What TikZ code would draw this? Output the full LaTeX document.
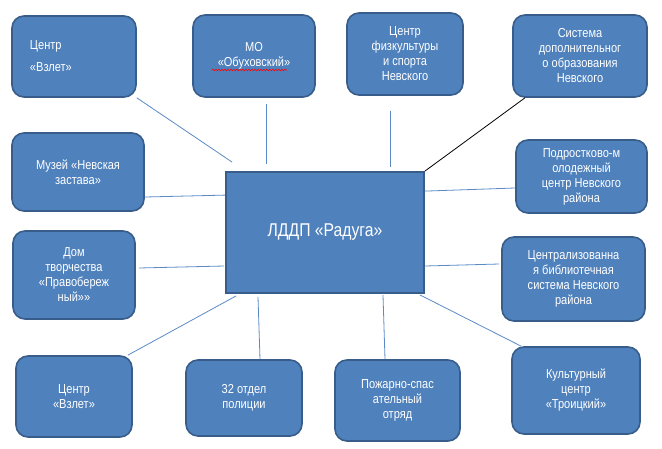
\documentclass[tikz,border=0pt]{standalone}
\usepackage{fontspec}
\setmainfont{Liberation Sans}[FakeStretch=0.85]
\usetikzlibrary{decorations.pathmorphing}
\definecolor{boxfill}{HTML}{4F81BD}
\definecolor{boxline}{HTML}{385D8A}
\definecolor{linkline}{HTML}{5B8AC6}

\begin{document}
\begin{tikzpicture}[
  x=1pt,y=-1pt,
  font=\fontsize{13}{15}\selectfont,
  partner/.style={draw=boxline,line width=1.6pt,fill=boxfill,rounded corners=12pt,text=white,align=center,inner sep=2pt},
  hubbox/.style={draw=boxline,line width=1.8pt,fill=boxfill,text=white,align=center,font=\fontsize{18.5}{21}\selectfont},
  link/.style={draw=linkline,line width=0.8pt}
]
  \useasboundingbox (0,0) rectangle (662,448);

  \node[hubbox,minimum width=198pt,minimum height=121pt] (hub) at (325,232.5) {ЛДДП «Радуга»};

  % top row
  \node[partner,minimum width=124pt,minimum height=81pt,align=left,text width=88pt,inner xsep=18pt] (vzletA) at (74,56.5) {Центр\\[7pt]«Взлет»};
  \node[partner,minimum width=122pt,minimum height=82pt] (mo) at (254,56) {МО\\«Обуховский»};
  \node[partner,minimum width=116pt,minimum height=82pt] (sport) at (405,54) {Центр\\физкультуры\\и спорта\\Невского};
  \node[partner,minimum width=134pt,minimum height=82pt] (dop) at (580,56) {Система\\дополнительног\\о образования\\Невского};

  % left and right columns
  \node[partner,minimum width=132pt,minimum height=78pt] (muzej) at (78,172) {Музей «Невская\\застава»};
  \node[partner,minimum width=122pt,minimum height=88pt] (dom) at (74,275) {Дом\\творчества\\«Правобереж\\ный»»};
  \node[partner,minimum width=131pt,minimum height=73pt] (podr) at (581.5,176.5) {Подростково-м\\олодежный\\центр Невского\\района};
  \node[partner,minimum width=143pt,minimum height=84pt] (lib) at (573.5,279) {Централизованна\\я библиотечная\\система Невского\\района};

  % bottom row
  \node[partner,minimum width=116pt,minimum height=81pt] (vzletB) at (74,396.5) {Центр\\«Взлет»};
  \node[partner,minimum width=116pt,minimum height=76pt] (police) at (244,398) {32 отдел\\полиции};
  \node[partner,minimum width=125pt,minimum height=81pt] (fire) at (397.5,400.5) {Пожарно-спас\\ательный\\отряд};
  \node[partner,minimum width=128pt,minimum height=87pt] (kult) at (576,390.5) {Культурный\\центр\\«Троицкий»};

  % spell-check mark
  \draw[red,line width=0.6pt,decorate,decoration={snake,segment length=3pt,amplitude=0.8pt}]
    ([xshift=-42pt,yshift=-14pt]mo.center) -- ([xshift=33pt,yshift=-14pt]mo.center);

  % links
  \draw[link] (vzletA.south east) -- ([xshift=7pt,yshift=9pt]hub.north west);
  \draw[link] ([xshift=12pt,yshift=-6pt]mo.south) -- ([xshift=-59pt,yshift=7pt]hub.north);
  \draw[link] ([xshift=-15pt,yshift=-15pt]sport.south) -- ([xshift=65pt,yshift=4pt]hub.north);
  \draw[black,line width=0.8pt] ([xshift=-55pt]dop.south) -- (hub.north east);
  \draw[link] ([yshift=-25pt]muzej.east) -- ([yshift=-24pt]hub.north west);
  \draw[link] ([xshift=3pt,yshift=7pt]dom.east) -- ([xshift=-1pt,yshift=-33.5pt]hub.west);
  \draw[link] ([yshift=-11.5pt]podr.west) -- ([yshift=-20pt]hub.north east);
  \draw[link] ([xshift=-2pt,yshift=15pt]lib.west) -- ([yshift=-33.5pt]hub.east);
  \draw[link] ([xshift=-5pt]vzletB.north east) -- ([xshift=11pt,yshift=-2pt]hub.south west);
  \draw[link] ([xshift=16pt]police.north) -- ([xshift=-67pt,yshift=-3pt]hub.south);
  \draw[link] ([xshift=-12.5pt]fire.north) -- ([xshift=58pt,yshift=-1pt]hub.south);
  \draw[link] ([xshift=10pt]kult.north west) -- ([xshift=-5pt,yshift=-1pt]hub.south east);
\end{tikzpicture}
\end{document}
